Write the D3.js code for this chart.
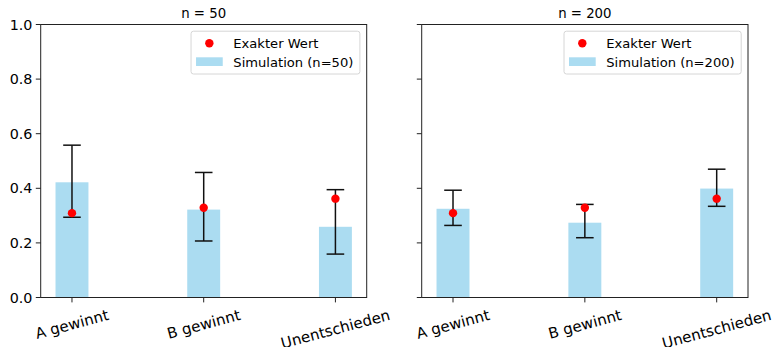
<!DOCTYPE html>
<html><head><meta charset="utf-8">
<script src="https://cdn.jsdelivr.net/npm/d3@7"></script>
<style>body{margin:0;background:#fff}svg{display:block}text{font-family:"DejaVu Sans",sans-serif;fill:#000}</style>
</head><body><svg id="c" width="775" height="347"></svg>
<script>
const categories = ["A gewinnt", "B gewinnt", "Unentschieden"];
const exactValues = [0.309, 0.329, 0.362];
const sim50 = [0.422, 0.322, 0.259];
const lo50 = [0.294, 0.207, 0.159];
const hi50 = [0.558, 0.458, 0.395];
const sim200 = [0.325, 0.274, 0.399];
const lo200 = [0.264, 0.219, 0.334];
const hi200 = [0.393, 0.341, 0.470];
const yTicks = [0.0, 0.2, 0.4, 0.6, 0.8, 1.0];
const panelTitles = ["n = 50", "n = 200"];
const simLabels = ["Simulation (n=50)", "Simulation (n=200)"];
const exactLabel = "Exakter Wert";

const svg = d3.select("#c");
const plotTop = 24.5, plotBottom = 297.5;
const panels = [
  {x0: 40.7, x1: 366.7, sim: sim50, lo: lo50, hi: hi50, title: panelTitles[0], simLabel: simLabels[0], labels: true},
  {x0: 421.7, x1: 748, sim: sim200, lo: lo200, hi: hi200, title: panelTitles[1], simLabel: simLabels[1], labels: false}
];
const y = d3.scaleLinear().domain([0, 1]).range([plotBottom, plotTop]);
const barColor = "#abdcf1";
const tickLen = 4.9;
const xFont = 15;

panels.forEach(p => {
  const x = d3.scaleLinear().domain([-0.2375, 2.2375]).range([p.x0, p.x1]);
  const bw = x(0.25) - x(0);
  const g = svg.append("g");
  const idx = d3.range(categories.length);
  g.selectAll("rect.bar").data(idx).join("rect")
    .attr("x", i => x(i) - bw / 2).attr("width", bw)
    .attr("y", i => y(p.sim[i])).attr("height", i => y(0) - y(p.sim[i]))
    .attr("fill", barColor);
  const cap = 8.8;
  idx.forEach(i => {
    const cx = x(i);
    g.append("line").attr("x1", cx).attr("x2", cx).attr("y1", y(p.lo[i])).attr("y2", y(p.hi[i]))
      .attr("stroke", "#111").attr("stroke-width", 1.5);
    [p.lo[i], p.hi[i]].forEach(v => {
      g.append("line").attr("x1", cx - cap).attr("x2", cx + cap).attr("y1", y(v)).attr("y2", y(v))
        .attr("stroke", "#111").attr("stroke-width", 1.5);
    });
  });
  g.selectAll("circle.ex").data(idx).join("circle")
    .attr("cx", i => x(i)).attr("cy", i => y(exactValues[i])).attr("r", 4.2).attr("fill", "#ff0000");
  g.append("rect").attr("x", p.x0).attr("y", plotTop).attr("width", p.x1 - p.x0).attr("height", plotBottom - plotTop)
    .attr("fill", "none").attr("stroke", "#222").attr("stroke-width", 1);
  yTicks.forEach(t => {
    g.append("line").attr("x1", p.x0 - tickLen).attr("x2", p.x0).attr("y1", y(t)).attr("y2", y(t))
      .attr("stroke", "#222").attr("stroke-width", 1);
    if (p.labels) {
      g.append("text").attr("x", p.x0 - 8.3).attr("y", y(t)).attr("dy", "0.36em")
        .attr("text-anchor", "end").style("font-size", "14.3px").text(t.toFixed(1));
    }
  });
  idx.forEach(i => {
    const cx = x(i);
    g.append("line").attr("x1", cx).attr("x2", cx).attr("y1", plotBottom).attr("y2", plotBottom + tickLen)
      .attr("stroke", "#222").attr("stroke-width", 1);
    const t = g.append("text").style("font-size", xFont + "px").attr("text-anchor", "middle").text(categories[i]);
    const w = t.node().getComputedTextLength();
    const h = xFont * 1.164;
    const a = 15 * Math.PI / 180;
    const H = w * Math.sin(a) + h * Math.cos(a);
    const cy = plotBottom + 8.6 + H / 2;
    t.attr("x", 0).attr("y", 0).attr("dy", (0.346 * xFont) + "px")
      .attr("transform", `translate(${cx},${cy}) rotate(-15)`);
  });
  g.append("text").attr("x", (p.x0 + p.x1) / 2).attr("y", 18.3).attr("text-anchor", "middle")
    .style("font-size", "13.3px").text(p.title);
  const lg = g.append("g");
  const t1 = lg.append("text").style("font-size", "13.1px").text(exactLabel);
  const t2 = lg.append("text").style("font-size", "13.1px").text(p.simLabel);
  const maxW = Math.max(t1.node().getComputedTextLength(), t2.node().getComputedTextLength());
  const right = p.x1 - 6.8;
  const left = right - (42.3 + maxW + 6.5);
  lg.insert("rect", "text").attr("x", left).attr("y", 31.2).attr("width", right - left).attr("height", 42.8)
    .attr("rx", 2.5).attr("fill", "#fff").attr("fill-opacity", 0.8).attr("stroke", "#d6d6d6").attr("stroke-width", 1);
  lg.append("circle").attr("cx", left + 18.3).attr("cy", 43.3).attr("r", 4.2).attr("fill", "#ff0000");
  lg.append("rect").attr("x", left + 5).attr("y", 57.3).attr("width", 26.7).attr("height", 8.7).attr("fill", barColor);
  t1.attr("x", left + 42.3).attr("y", 48);
  t2.attr("x", left + 42.3).attr("y", 66.5);
});
</script></body></html>
